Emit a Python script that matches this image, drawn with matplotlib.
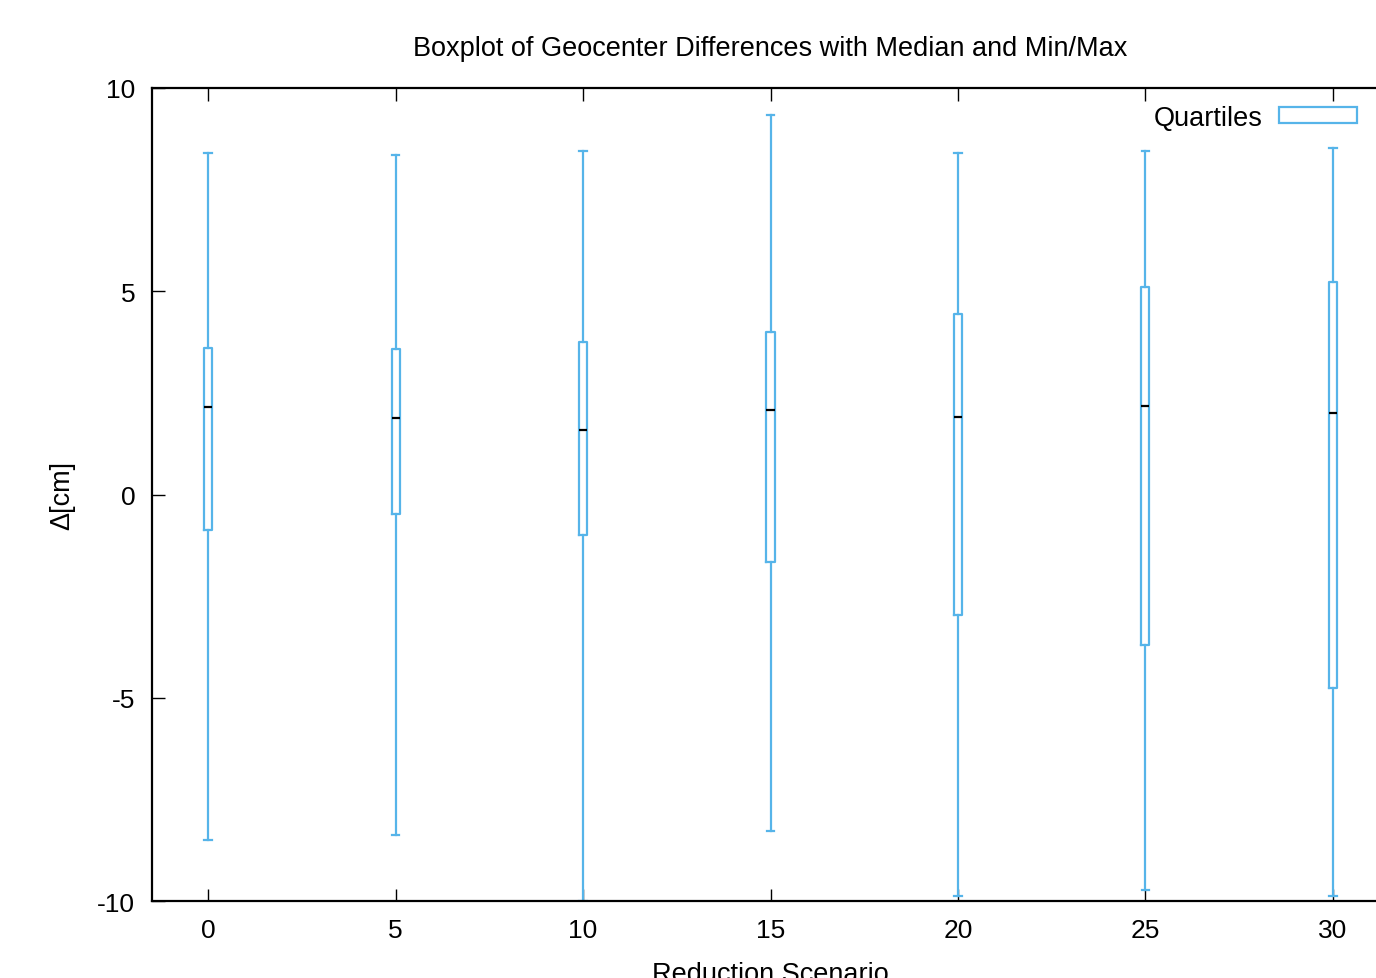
import matplotlib
matplotlib.use("Agg")
from matplotlib import pyplot as plt
from matplotlib.patches import Rectangle

plt.rcParams['font.family'] = ['Liberation Sans', 'DejaVu Sans']
plt.rcParams['axes.unicode_minus'] = False

scenarios = [0, 5, 10, 15, 20, 25, 30]
whisker_min = [-8.50, -8.38, -10.00, -8.28, -9.87, -9.73, -9.87]
quartile_1 = [-0.87, -0.48, -1.00, -1.66, -2.96, -3.70, -4.76]
medians = [2.15, 1.88, 1.59, 2.08, 1.91, 2.18, 2.00]
quartile_3 = [3.60, 3.58, 3.75, 4.00, 4.44, 5.10, 5.23]
whisker_max = [8.40, 8.35, 8.45, 9.34, 8.40, 8.45, 8.52]

blue = '#56b4e9'

fig = plt.figure(figsize=(13.76, 9.79), dpi=100)
ax = fig.add_axes([152 / 1376, 1 - 902 / 979, 1237 / 1376, 813 / 979])

stats = []
for i, x in enumerate(scenarios):
    stats.append({'whislo': whisker_min[i], 'q1': quartile_1[i], 'med': medians[i],
                  'q3': quartile_3[i], 'whishi': whisker_max[i], 'fliers': []})

ax.bxp(stats, positions=scenarios, widths=0.22, capwidths=0.2, showfliers=False,
       boxprops=dict(color=blue, linewidth=1.6),
       whiskerprops=dict(color=blue, linewidth=1.6),
       capprops=dict(color=blue, linewidth=1.6),
       medianprops=dict(color='black', linewidth=1.6))

ax.set_xlim(-1.5, 31.5)
ax.set_ylim(-10, 10)
ax.set_xticks(scenarios)
ax.set_xticklabels([str(s) for s in scenarios])
ax.set_yticks([-10, -5, 0, 5, 10])
ax.tick_params(direction='in', length=9, width=1, labelsize=19, top=True, pad=12)
for sp in ax.spines.values():
    sp.set_linewidth(1.6)

ax.set_title('Boxplot of Geocenter Differences with Median and Min/Max', fontsize=19.5, pad=24,
             x=(770 - 152) / 1237)
ax.set_xlabel('Reduction Scenario', fontsize=19.5, labelpad=14, x=(770 - 152) / 1237)
ax.set_ylabel('Δ[cm]', fontsize=19.5, labelpad=16)

handle = Rectangle((0, 0), 1, 1, facecolor='none', edgecolor=blue, linewidth=1.6)
fig.legend([handle], ['Quartiles'], loc='upper right', bbox_to_anchor=(1371 / 1376, 1 - 92 / 979),
           frameon=False, fontsize=19.5, handlelength=2.9, handleheight=0.5, handletextpad=0.6,
           markerfirst=False, borderpad=0)

fig.savefig('out.png', dpi=100)
